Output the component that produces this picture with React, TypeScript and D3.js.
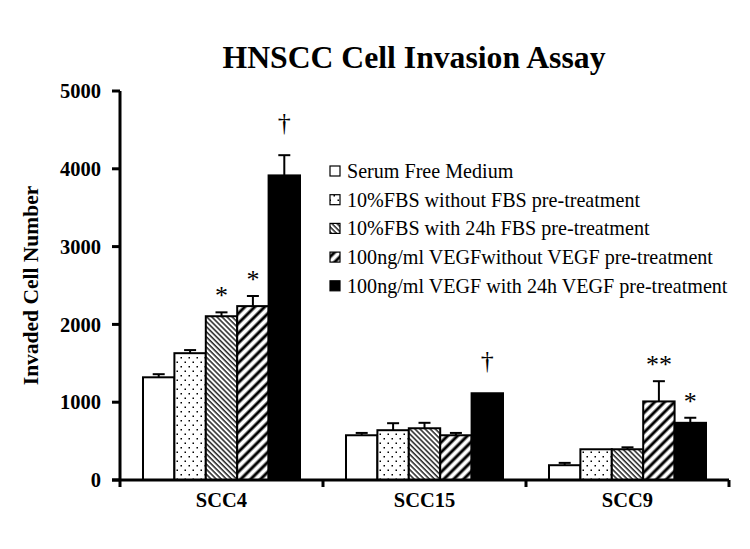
import React from "react";
import * as d3 from "d3";

const groups = ["SCC4", "SCC15", "SCC9"];
const seriesNames = [
  "Serum Free Medium",
  "10%FBS without FBS pre-treatment",
  "10%FBS with 24h FBS pre-treatment",
  "100ng/ml VEGFwithout VEGF pre-treatment",
  "100ng/ml VEGF with 24h VEGF pre-treatment",
];
const valuesSCC4 = [1320, 1630, 2105, 2235, 3915];
const valuesSCC15 = [575, 640, 665, 575, 1115];
const valuesSCC9 = [190, 395, 395, 1010, 735];
const errSCC4 = [40, 40, 50, 130, 260];
const errSCC15 = [30, 90, 70, 30, 0];
const errSCC9 = [30, 0, 25, 260, 65];
const yTicks = [0, 1000, 2000, 3000, 4000, 5000];
// significance marks: [group, series index, symbol]
const marks: [string, number, string][] = [
  ["SCC4", 2, "*"],
  ["SCC4", 3, "*"],
  ["SCC4", 4, "†"],
  ["SCC15", 4, "†"],
  ["SCC9", 3, "**"],
  ["SCC9", 4, "*"],
];

const values: Record<string, number[]> = { SCC4: valuesSCC4, SCC15: valuesSCC15, SCC9: valuesSCC9 };
const errors: Record<string, number[]> = { SCC4: errSCC4, SCC15: errSCC15, SCC9: errSCC9 };

const FONT = "'Liberation Serif', 'Times New Roman', serif";
const fills = ["#fff", "url(#dots)", "url(#dense)", "url(#thick)", "#000"];

export default function App() {
  const W = 750, H = 549;
  const left = 120, right = 729, top = 91, bottom = 480;
  const y = d3.scaleLinear().domain([0, 5000]).range([bottom, top]);
  const p = 0.2266;
  const x0 = d3.scaleBand<string>().domain(groups).range([left, right]).paddingInner(p).paddingOuter(p / 2);
  const x1 = d3.scaleBand<number>().domain(d3.range(seriesNames.length)).range([0, x0.bandwidth()]);
  const step = x0.step();
  const sepXs = groups.map((g, i) => left + step * (i + 1));

  return (
    <svg width={W} height={H} style={{ position: "absolute", left: 0, top: 0, background: "#fff" }} fontFamily={FONT}>
      <defs>
        <pattern id="dots" width={8} height={9} patternUnits="userSpaceOnUse">
          <rect width={8} height={9} fill="#fff" />
          <rect x={1.5} y={1.5} width={1.5} height={1.5} fill="#000" />
          <rect x={5.5} y={6} width={1.5} height={1.5} fill="#000" />
        </pattern>
        <pattern id="dense" width={3.6} height={10} patternUnits="userSpaceOnUse" patternTransform="rotate(-45)">
          <rect width={3.6} height={10} fill="#fff" />
          <line x1={1} y1={0} x2={1} y2={10} stroke="#000" strokeWidth={1.3} />
        </pattern>
        <pattern id="thick" width={7} height={10} patternUnits="userSpaceOnUse" patternTransform="rotate(45)">
          <rect width={7} height={10} fill="#fff" />
          <line x1={2} y1={0} x2={2} y2={10} stroke="#000" strokeWidth={3} />
        </pattern>
      </defs>

      <text x={414} y={68} textAnchor="middle" fontSize={31.7} fontWeight="bold">HNSCC Cell Invasion Assay</text>

      {/* bars */}
      {groups.map((g) => (
        <g key={g} transform={`translate(${x0(g)},0)`}>
          {values[g].map((v, i) => (
            <rect key={i} x={x1(i)} y={y(v)} width={x1.bandwidth()} height={y(0) - y(v)}
              fill={fills[i]} stroke="#000" strokeWidth={2} />
          ))}
          {values[g].map((v, i) => {
            const e = errors[g][i];
            if (!e) return null;
            const cx = (x1(i) as number) + x1.bandwidth() / 2;
            return (
              <g key={"e" + i} stroke="#000" strokeWidth={2}>
                <line x1={cx} x2={cx} y1={y(v)} y2={y(v + e)} />
                <line x1={cx - 6} x2={cx + 6} y1={y(v + e)} y2={y(v + e)} />
              </g>
            );
          })}
        </g>
      ))}

      {/* significance marks */}
      {marks.map(([g, i, s], k) => {
        const cx = (x0(g) as number) + (x1(i) as number) + x1.bandwidth() / 2;
        const topV = values[g][i] + errors[g][i];
        const isDagger = s.includes("†");
        return (
          <text key={k} x={cx} y={y(topV) - (isDagger ? 24 : 8)} textAnchor="middle" fontSize={26}>{s}</text>
        );
      })}

      {/* y axis */}
      <line x1={left} x2={left} y1={top} y2={bottom + 7} stroke="#000" strokeWidth={3} />
      {yTicks.map((t) => (
        <g key={t}>
          <line x1={left - 8} x2={left} y1={y(t)} y2={y(t)} stroke="#000" strokeWidth={3} />
          <text x={101} y={y(t)} dy="0.35em" textAnchor="end" fontSize={20.5} fontWeight="bold">{t}</text>
        </g>
      ))}
      <text transform={`translate(38,${(top + bottom) / 2}) rotate(-90)`} textAnchor="middle" fontSize={21.5} fontWeight="bold">Invaded Cell Number</text>

      {/* x axis */}
      <line x1={left - 8} x2={right} y1={bottom} y2={bottom} stroke="#000" strokeWidth={3} />
      {sepXs.map((sx, i) => (
        <line key={i} x1={sx} x2={sx} y1={bottom} y2={bottom + 7} stroke="#000" strokeWidth={3} />
      ))}
      {groups.map((g) => (
        <text key={g} x={(x0(g) as number) + x0.bandwidth() / 2} y={507} textAnchor="middle" fontSize={20.5} fontWeight="bold">{g}</text>
      ))}

      {/* legend */}
      {seriesNames.map((n, i) => {
        const cy = 171 + i * 28.7;
        return (
          <g key={n}>
            <rect x={330} y={cy - 5} width={10} height={10} fill={fills[i]} stroke="#000" strokeWidth={1.2} />
            <text x={347} y={cy} dy="0.35em" fontSize={20.1}>{n}</text>
          </g>
        );
      })}
    </svg>
  );
}
